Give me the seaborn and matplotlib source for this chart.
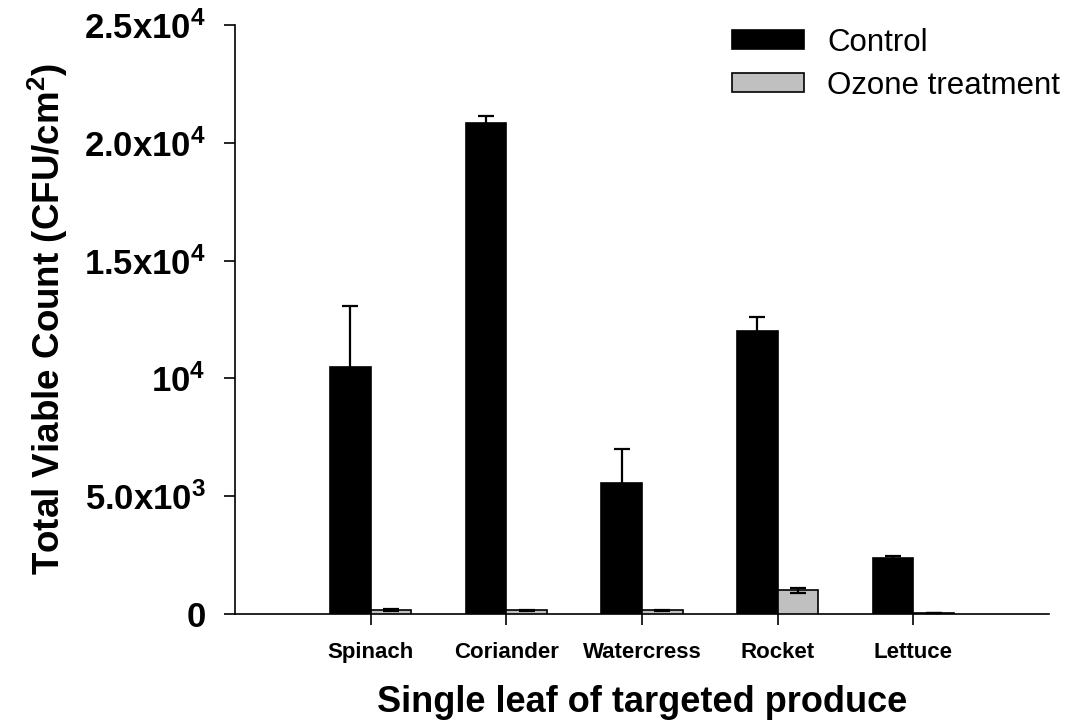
import matplotlib
matplotlib.use("Agg")
import matplotlib.pyplot as plt
import seaborn as sns
import pandas as pd
import numpy as np

categories = ["Spinach", "Coriander", "Watercress", "Rocket", "Lettuce"]
groups = ["Control", "Ozone treatment"]
control = [10500, 20830, 5550, 12010, 2390]
control_err = [2580, 320, 1470, 610, 85]
ozone = [170, 150, 150, 1000, 40]
ozone_err = [50, 30, 30, 100, 10]
ytick_values = [0, 5000, 10000, 15000, 20000, 25000]
ytick_labels = ["0", "5.0x10$^{3}$", "10$^{4}$", "1.5x10$^{4}$", "2.0x10$^{4}$", "2.5x10$^{4}$"]

sns.set_style("ticks")
plt.rcParams["font.family"] = ["Liberation Sans", "DejaVu Sans"]
plt.rcParams["mathtext.default"] = "regular"
plt.rcParams["text.color"] = "black"
plt.rcParams["axes.labelcolor"] = "black"
plt.rcParams["xtick.color"] = "black"
plt.rcParams["ytick.color"] = "black"
plt.rcParams["axes.edgecolor"] = "black"

df = pd.DataFrame({
    "Produce": categories * 2,
    "Group": [groups[0]] * len(categories) + [groups[1]] * len(categories),
    "Count": control + ozone,
})

fig = plt.figure(figsize=(10.73, 7.24), dpi=100)
ax = fig.add_axes([0.219, 0.152, 0.7586, 0.8135])

sns.barplot(data=df, x="Produce", y="Count", hue="Group", order=categories,
            hue_order=groups, palette={"Control": "black", "Ozone treatment": "#c0c0c0"},
            width=0.6, gap=0, edgecolor="black", linewidth=1.2, errorbar=None,
            saturation=1, ax=ax, zorder=3)

errs = [control_err, ozone_err]
zorders = [2, 5]
for cont, err, zo in zip(ax.containers, errs, zorders):
    xs = [p.get_x() + p.get_width() / 2 for p in cont.patches]
    ys = [p.get_height() for p in cont.patches]
    ax.errorbar(xs, ys, yerr=err, fmt="none", ecolor="black", elinewidth=1.6,
                capsize=6, capthick=1.6, zorder=zo)

ax.set_xlim(-1, 5)
ax.set_ylim(0, 25000)
ax.set_yticks(ytick_values)
ax.set_yticklabels(ytick_labels, fontsize=25, fontweight="bold")
ax.set_xticks(range(len(categories)))
ax.set_xticklabels(categories, fontsize=16, fontweight="bold")
ax.tick_params(axis="y", length=8, width=1.2, pad=13, direction="out")
ax.tick_params(axis="x", length=8, width=1.2, pad=12, direction="out")
for s in ["top", "right"]:
    ax.spines[s].set_visible(False)
for s in ["left", "bottom"]:
    ax.spines[s].set_linewidth(1.2)

ax.set_xlabel("Single leaf of targeted produce", fontsize=26, fontweight="bold", labelpad=16)
ax.set_ylabel("Total Viable Count (CFU/cm$^{2}$)", fontsize=26.5, fontweight="bold", labelpad=10)

leg = ax.legend(loc="upper left", bbox_to_anchor=(0.682, 0.962), bbox_transform=fig.transFigure,
                frameon=False, fontsize=22.5, handlelength=2.3, handleheight=0.55,
                handletextpad=0.75, labelspacing=0.42, borderpad=0, borderaxespad=0)
for h in leg.legend_handles:
    h.set_edgecolor("black")
    h.set_linewidth(1.2)

fig.savefig("out.png", dpi=100)
